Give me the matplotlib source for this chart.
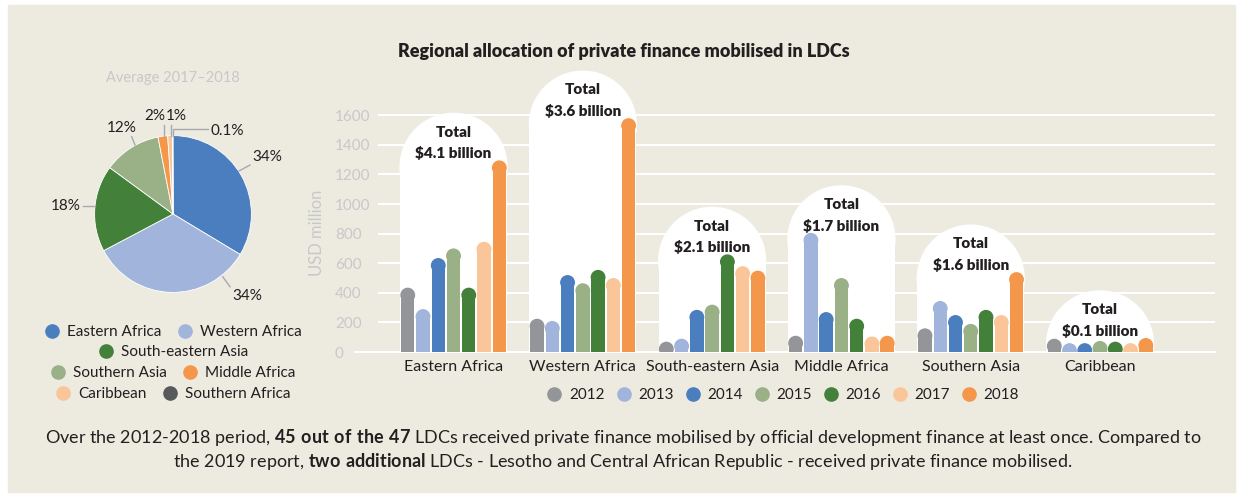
import matplotlib
matplotlib.use('Agg')
import matplotlib.pyplot as plt
from matplotlib.patches import Ellipse, Rectangle
from matplotlib.lines import Line2D
import numpy as np

plt.rcParams['font.family'] = ['Lato', 'DejaVu Sans']
plt.rcParams['mathtext.fontset'] = 'custom'
plt.rcParams['mathtext.rm'] = 'Lato'
plt.rcParams['mathtext.bf'] = 'Lato:bold'

# ---- data ----
regions = ['Eastern Africa', 'Western Africa', 'South-eastern Asia',
           'Middle Africa', 'Southern Asia', 'Caribbean']
totals = ['$4.1 billion', '$3.6 billion', '$2.1 billion',
          '$1.7 billion', '$1.6 billion', '$0.1 billion']
years = ['2012', '2013', '2014', '2015', '2016', '2017', '2018']
y2012 = [430, 220, 65, 105, 155, 85]
y2013 = [285, 205, 85, 800, 340, 55]
y2014 = [630, 515, 280, 265, 245, 55]
y2015 = [695, 460, 315, 495, 185, 70]
y2016 = [430, 550, 655, 220, 280, 65]
y2017 = [740, 495, 575, 100, 245, 55]
y2018 = [1290, 1575, 545, 105, 535, 90]

pie_regions = ['Eastern Africa', 'Western Africa', 'South-eastern Asia',
               'Southern Asia', 'Middle Africa', 'Caribbean', 'Southern Africa']
pie_share = [34, 34, 18, 12, 2, 1, 0.1]
pie_text = ['34%', '34%', '18%', '12%', '2%', '1%', '0.1%']

# ---- style ----
dark = '#231F20'
light = '#C7C8CA'
beige = '#EDEAE0'
year_colors = ['#939598', '#A0B4DC', '#4A7EBF', '#9AB087', '#43803A', '#FAC699', '#F5974A']
pie_colors = ['#4A7EBF', '#A0B4DC', '#43803A', '#9AB087', '#F5974A', '#FAC699', '#58595B']

W, H = 1239, 497
fig = plt.figure(figsize=(W / 100, H / 100), dpi=100)
fig.patch.set_facecolor('white')
fig.add_artist(Rectangle((8 / W, 1 - 492 / H), (1235 - 8) / W, (492 - 5) / H,
                         transform=fig.transFigure, color=beige, zorder=0))

def fx(px):
    return px / W

def fy(py):
    return 1 - py / H

# ---- bar chart ----
ax = fig.add_axes([fx(378), fy(352), (1215 - 378) / W, (352 - 56) / H])
ax.set_facecolor('none')
ax.set_xlim(-0.584, 5.889)
ax.set_ylim(0, 2000)
for s in ax.spines.values():
    s.set_visible(False)

px_x = ax.transData.transform((1, 0))[0] - ax.transData.transform((0, 0))[0]
px_y = ax.transData.transform((0, 1))[1] - ax.transData.transform((0, 0))[1]

x = np.arange(len(regions))
step = 0.118
bw = 0.104
series = [y2012, y2013, y2014, y2015, y2016, y2017, y2018]
vals_all = np.array(series)

# white arches behind each region
half = 3.5 * step
ry_arch = half * px_x / px_y
arch_tops = vals_all.max(axis=0) + 322
for i, top in enumerate(arch_tops):
    ax.bar(i, top - ry_arch, width=2 * half, color='white', zorder=1)
    ax.add_patch(Ellipse((i, top - ry_arch), 2 * half, 2 * ry_arch, color='white', zorder=1))
    ax.annotate('Total', xy=(i, top), xytext=(0, -13.5), textcoords='offset points',
                ha='center', va='center', fontsize=11, weight='heavy', color=dark, zorder=5)
    ax.annotate(totals[i], xy=(i, top), xytext=(0, -28.8), textcoords='offset points',
                ha='center', va='center', fontsize=11, weight='heavy', color=dark, zorder=5)

# rounded-top bars
ry_bar = (bw / 2) * px_x / px_y
for j, vals in enumerate(series):
    vals = np.array(vals, dtype=float)
    xs = x + (j - 3) * step
    ax.bar(xs, np.maximum(vals - ry_bar, 0), width=bw, color=year_colors[j], zorder=3)
    for xi, v in zip(xs, vals):
        h = min(ry_bar, v)
        ax.add_patch(Ellipse((xi, v - h), bw, 2 * h, color=year_colors[j], zorder=3))

ax.set_yticks(range(0, 1601, 200))
ax.grid(axis='y', color='white', lw=1.5)
ax.set_axisbelow(True)
ax.axhline(0, xmin=-23 / 837, xmax=1, color='white', lw=1.5, clip_on=False, zorder=0.6)
ax.tick_params(axis='y', length=0, pad=31, labelsize=11, labelcolor=light)
for lab in ax.get_yticklabels():
    lab.set_ha('left')
ax.set_xticks(x, regions)
ax.tick_params(axis='x', length=0, pad=6, labelsize=11.5, labelcolor=dark)
ax.set_ylabel('USD million', color=light, fontsize=12)
ax.yaxis.set_label_coords(-0.0633, 0.402)

fig.text(fx(624), fy(51), 'Regional allocation of private finance mobilised in LDCs',
         ha='center', va='center', fontsize=13, weight='heavy', color=dark)

year_handles = [Line2D([], [], ls='', marker='o', markersize=9.5, color=c) for c in year_colors]
fig.legend(year_handles, years, loc='center', bbox_to_anchor=(fx(783), fy(395)), ncol=7,
           frameon=False, fontsize=11, handlelength=1.0, handletextpad=0.45,
           columnspacing=0.75, labelcolor=dark)

# ---- pie ----
R = 78.4
cx, cy = 173, 214
axp = fig.add_axes([fx(cx - R), fy(cy + R), 2 * R / W, 2 * R / H])
axp.pie(pie_share, colors=pie_colors, startangle=90, counterclock=False,
        wedgeprops=dict(edgecolor='white', linewidth=0.6))
axp.set_xlim(-1, 1)
axp.set_ylim(-1, 1)
axp.axis('off')

# label placement (px offsets from pie centre)
label_pos = [(94, 57), (74.5, -82), (-107, 8), (-51, 86.5), (-18, 98), (3.5, 98), (54.7, 83.3)]
leaders = [[(66, 43), (77, 49)],
           [(49.7, -62.7), (57, -72.7)],
           [(-78, 8), (-90, 8)],
           [(-38, 69), (-41.3, 77.3)],
           [(-9, 78), (-9, 89)],
           [(-2.3, 78), (-2.3, 89)],
           [(0.3, 78), (0.3, 84.7), (35.3, 84.7)]]
for t, (dx, dy), pts in zip(pie_text, label_pos, leaders):
    pts = np.array(pts) / R
    axp.plot(pts[:, 0], pts[:, 1], color='#A7A9AC', lw=1, clip_on=False)
    axp.text(dx / R, dy / R, t, ha='center', va='center', fontsize=11, color=dark, clip_on=False)

fig.text(fx(173), fy(78), 'Average 2017\u20132018', ha='center', va='center',
         fontsize=10.5, color=light)

pie_handles = [Line2D([], [], ls='', marker='o', markersize=9.5, color=c) for c in pie_colors]
rows = [[0, 1], [2], [3, 4], [5, 6]]
row_y = [332, 352, 373, 394]
for r, yy in zip(rows, row_y):
    fig.legend([pie_handles[k] for k in r], [pie_regions[k] for k in r], loc='center',
               bbox_to_anchor=(fx(173), fy(yy)), ncol=len(r), frameon=False, fontsize=11,
               handlelength=1.0, handletextpad=0.5, columnspacing=1.0, labelcolor=dark,
               borderpad=0, borderaxespad=0)

# ---- caption ----
line1 = (r'Over the 2012-2018 period, $\mathbf{45\ out\ of\ the\ 47}$ LDCs received private '
         r'finance mobilised by official development finance at least once. Compared to')
line2 = (r'the 2019 report, $\mathbf{two\ additional}$ LDCs - Lesotho and Central African '
         r'Republic - received private finance mobilised.')
fig.text(fx(623), fy(438), line1, ha='center', va='center', fontsize=13, color=dark)
fig.text(fx(623), fy(462), line2, ha='center', va='center', fontsize=13, color=dark)

fig.savefig('out.png', dpi=100, facecolor='white')
